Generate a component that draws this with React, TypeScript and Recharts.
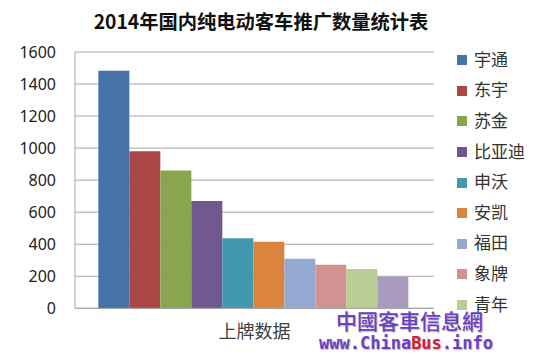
import React from 'react';
import { BarChart, Bar, XAxis, YAxis, CartesianGrid } from 'recharts';

const categories = ['上牌数据'];
const seriesNames = ['宇通', '东宇', '苏金', '比亚迪', '申沃', '安凯', '福田', '象牌', '青年', '其他'];
const seriesValues = [1483, 980, 860, 670, 437, 415, 310, 272, 245, 197];
const seriesColors = ['#4572A7', '#AA4643', '#89A54E', '#71588F', '#4198AF', '#DB843D', '#93A9CF', '#D19392', '#B9CD96', '#A99BBD'];
const legendCount = 9;
const yTicks = [0, 200, 400, 600, 800, 1000, 1200, 1400, 1600];
const title = '2014年国内纯电动客车推广数量统计表';
const watermarkLine1 = '中國客車信息網';
const watermarkPre = 'www.China';
const watermarkMid = 'Bus';
const watermarkPost = '.info';

const data = categories.map((c) => {
  const row: Record<string, string | number> = { cat: c };
  seriesNames.forEach((n, i) => {
    row[n] = seriesValues[i];
  });
  return row;
});

const cjk = '"Noto Sans CJK SC", "Noto Sans", sans-serif';

const LegendBox = () => (
  <div style={{ position: 'absolute', left: 457, top: 43, fontFamily: cjk, fontSize: 17, color: '#333' }}>
    {seriesNames.slice(0, legendCount).map((n, i) => (
      <div key={n} style={{ height: 30.6, display: 'flex', alignItems: 'center' }}>
        <span style={{ display: 'inline-block', width: 10, height: 10, background: seriesColors[i], marginRight: 7, marginTop: 4 }} />
        <span>{n}</span>
      </div>
    ))}
  </div>
);

export default function App() {
  return (
    <div style={{ position: 'absolute', left: 0, top: 0, width: 550, height: 357, background: '#fff', overflow: 'hidden' }}>
      <div style={{ position: 'absolute', left: 0, top: 7, width: 522, textAlign: 'center', fontFamily: cjk, fontWeight: 700, fontSize: 19.3, color: '#111', whiteSpace: 'nowrap' }}>
        {title}
      </div>
      <BarChart
        width={550}
        height={357}
        data={data}
        margin={{ top: 52, right: 116, bottom: 0, left: 0 }}
        barCategoryGap="6.5%"
        barGap={0}
      >
        <CartesianGrid vertical={false} stroke="#a6a6a6" strokeWidth={1} />
        <XAxis
          dataKey="cat"
          height={48.7}
          tickLine={false}
          tickSize={0}
          tickMargin={17}
          stroke="#a6a6a6"
          tick={{ fontFamily: cjk, fontSize: 18, fill: '#404040' }}
        />
        <YAxis
          width={75}
          domain={[0, 1600]}
          ticks={yTicks}
          interval={0}
          tickLine={false}
          tickSize={0}
          tickMargin={19}
          stroke="#a6a6a6"
          tick={{ fontFamily: '"Noto Sans", sans-serif', fontSize: 16, fill: '#222' }}
        />
        {seriesNames.map((n, i) => (
          <Bar
            key={n}
            dataKey={n}
            name={n}
            fill={seriesColors[i]}
            isAnimationActive={false}
          />
        ))}
      </BarChart>
      <LegendBox />
      <div style={{ position: 'absolute', left: 336, top: 305, fontFamily: '"Noto Sans CJK TC", sans-serif', fontWeight: 500, fontSize: 21, color: '#6a3fc8', whiteSpace: 'nowrap', textShadow: '1px 1px 1px #bbb' }}>
        {watermarkLine1}
      </div>
      <div style={{ position: 'absolute', left: 319, top: 333, fontFamily: '"DejaVu Sans Mono", monospace', fontWeight: 700, fontSize: 17, color: '#6a3fc8', whiteSpace: 'nowrap', textShadow: '1px 1px 1px #bbb' }}>
        {watermarkPre}
        <span style={{ color: '#d0203a' }}>{watermarkMid}</span>
        {watermarkPost}
      </div>
    </div>
  );
}
